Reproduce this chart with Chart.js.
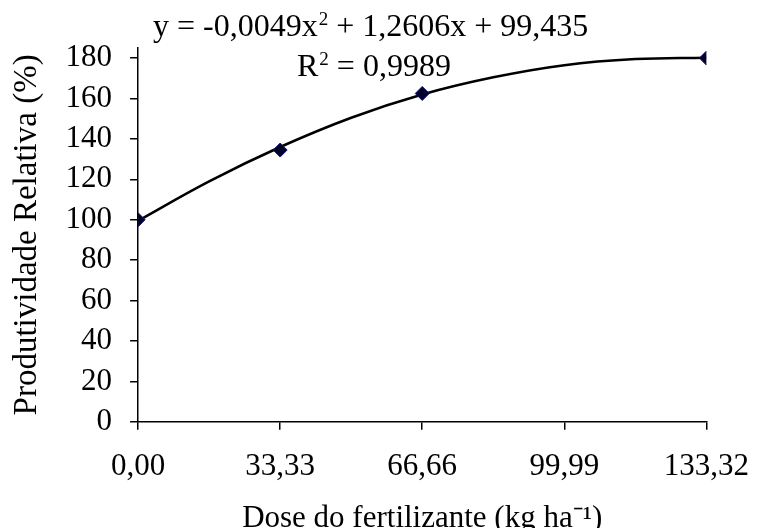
<!DOCTYPE html>
<html>
<head>
<meta charset="utf-8">
<title>Produtividade Relativa</title>
<script src="https://cdn.jsdelivr.net/npm/chart.js@4"></script>
<style>
    html, body { margin: 0; padding: 0; background: #fff; }
    #chart { display: block; }
</style>
</head>
<body>
<canvas id="chart" width="767" height="528"></canvas>
<script>
// Doses (kg/ha) and measured relative yield (%)
const doses = [0, 33.33, 66.66, 133.32];
const yieldPct = [100, 134.5, 162.5, 180];

// Fitted trend curve
const trendDoses = [0, 16.67, 33.33, 50, 66.66, 83.33, 99.99, 116.66, 133.32];
const trendPct = [99.5, 119, 136, 150.5, 162, 170.5, 176.5, 179.5, 180.2];

const xTicks = [0, 33.33, 66.66, 99.99, 133.32];
const yTicks = [0, 20, 40, 60, 80, 100, 120, 140, 160, 180];

const eqLine = ['y = -0,0049x', '2', ' + 1,2606x + 99,435'];
const r2Line = ['R', '2', ' = 0,9989'];

const serif = "'Liberation Serif', 'Times New Roman', serif";

function toPoints(xs, ys) {
    return xs.map(function(x, i) { return { x: x, y: ys[i] }; });
}

// Writes a text run where the middle piece is a superscript
function drawSup(ctx, parts, x, y, size) {
    ctx.font = size + 'px ' + serif;
    ctx.fillText(parts[0], x, y);
    x += ctx.measureText(parts[0]).width;
    ctx.font = Math.round(size * 0.6) + 'px ' + serif;
    ctx.fillText(parts[1], x + 1, y - size * 0.34);
    x += ctx.measureText(parts[1]).width + 1;
    ctx.font = size + 'px ' + serif;
    ctx.fillText(parts[2], x, y);
}

const equationLabel = {
    id: 'equationLabel',
    afterDraw: function(chart) {
        const ctx = chart.ctx;
        ctx.save();
        ctx.fillStyle = '#000';
        ctx.textBaseline = 'alphabetic';
        ctx.textAlign = 'left';
        drawSup(ctx, eqLine, 153, 36, 32);
        drawSup(ctx, r2Line, 297, 76, 32);
        ctx.restore();
    }
};

const axisColor = '#000';

new Chart(document.getElementById('chart'), {
    type: 'scatter',
    data: {
        datasets: [{
            label: 'Tendência',
            data: toPoints(trendDoses, trendPct),
            showLine: true,
            borderColor: '#000',
            borderWidth: 2.5,
            pointRadius: 0,
            tension: 0.4,
            order: 2
        }, {
            label: 'Produtividade',
            data: toPoints(doses, yieldPct),
            showLine: false,
            pointStyle: 'rectRot',
            pointRadius: 7,
            backgroundColor: '#000028',
            borderColor: '#101070',
            borderWidth: 1,
            order: 1
        }]
    },
    options: {
        responsive: false,
        animation: false,
        layout: {
            padding: { left: 8, top: 48, right: 0, bottom: -6 }
        },
        plugins: {
            legend: { display: false },
            tooltip: { enabled: false }
        },
        scales: {
            x: {
                type: 'linear',
                min: 0,
                max: 133.32,
                afterBuildTicks: function(scale) {
                    scale.ticks = xTicks.map(function(v) { return { value: v }; });
                },
                grid: { drawOnChartArea: false, tickLength: 8, color: axisColor, lineWidth: 1.5 },
                border: { color: axisColor, width: 1.5 },
                ticks: {
                    color: '#000',
                    padding: 18,
                    maxRotation: 0,
                    autoSkip: false,
                    font: { family: serif, size: 31 },
                    callback: function(v) { return Number(v).toFixed(2).replace('.', ','); }
                },
                title: {
                    display: true,
                    text: 'Dose do fertilizante (kg ha⁻¹)',
                    color: '#000',
                    padding: { top: 0, bottom: 0 },
                    font: { family: serif, size: 31, lineHeight: 1 }
                }
            },
            y: {
                min: 0,
                max: 185,
                afterBuildTicks: function(scale) {
                    scale.ticks = yTicks.map(function(v) { return { value: v }; });
                },
                grid: { drawOnChartArea: false, tickLength: 8, color: axisColor, lineWidth: 1.5 },
                border: { color: axisColor, width: 1.5 },
                ticks: {
                    color: '#000',
                    padding: 18,
                    autoSkip: false,
                    font: { family: serif, size: 31 }
                },
                title: {
                    display: true,
                    text: 'Produtividade Relativa (%)',
                    color: '#000',
                    padding: { top: 0, bottom: 0 },
                    font: { family: serif, size: 33, lineHeight: 1.2 }
                }
            }
        }
    },
    plugins: [equationLabel]
});
</script>
</body>
</html>
